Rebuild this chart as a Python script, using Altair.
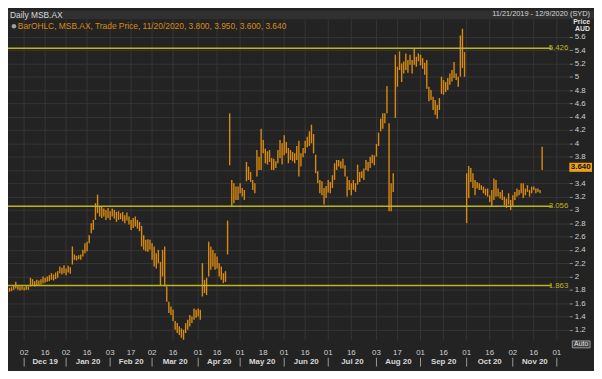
import altair as alt
import pandas as pd

# ---------------- data ----------------
holidays = ["2019-12-25", "2019-12-26", "2020-01-01", "2020-01-27",
            "2020-04-10", "2020-04-13", "2020-06-08"]

lows = [
    1.77, 1.78, 1.80, 1.82, 1.80, 1.79, 1.80, 1.79, 1.80, 1.80,
    1.85, 1.86, 1.85, 1.86, 1.87, 1.88, 1.90, 1.91, 1.92, 1.93,
    1.95, 1.94, 1.96, 1.98, 2.05, 2.03, 2.05, 2.02, 2.06, 2.04,
    2.18, 2.25, 2.24, 2.26, 2.25, 2.30, 2.35, 2.38, 2.50, 2.65,
    2.70, 2.85, 2.95, 2.90, 2.88, 2.90, 2.85, 2.88, 2.85, 2.90,
    2.87, 2.82, 2.85, 2.86, 2.83, 2.80, 2.84, 2.78, 2.70, 2.73,
    2.75, 2.72, 2.68, 2.45, 2.40, 2.38, 2.37, 2.40, 2.25, 2.15,
    2.12, 2.20, 1.86, 2.00, 1.85, 1.62, 1.45, 1.42, 1.33, 1.20,
    1.15, 1.12, 1.08, 1.05, 1.15, 1.20, 1.25, 1.30, 1.35, 1.38,
    1.40, 1.35, 1.70, 1.75, 1.72, 2.00, 2.10, 2.15, 2.10, 2.12,
    2.00, 1.95, 1.90, 1.92, 2.33, 3.67, 3.05, 3.10, 3.15, 3.15,
    3.25, 3.20, 3.15, 3.43, 3.45, 3.42, 3.30, 3.25, 3.50, 3.60,
    3.60, 3.85, 3.70, 3.68, 3.72, 3.60, 3.60, 3.63, 3.70, 3.78,
    3.68, 3.82, 3.85, 3.70, 3.75, 3.73, 3.70, 3.75, 3.50, 3.65,
    3.79, 3.85, 3.94, 3.96, 4.00, 3.85, 3.55, 3.40, 3.25, 3.22,
    3.08, 3.18, 3.26, 3.25, 3.33, 3.45, 3.60, 3.65, 3.62, 3.62,
    3.50, 3.20, 3.30, 3.22, 3.30, 3.27, 3.38, 3.42, 3.48, 3.45,
    3.60, 3.58, 3.63, 3.70, 3.67, 3.80, 3.96, 4.18, 4.22, 4.30,
    4.45, 2.98, 2.98, 3.27, 4.38, 4.85, 5.10, 4.92, 5.05, 5.10,
    5.06, 5.18, 5.05, 5.18, 5.15, 5.23, 5.17, 5.12, 5.03, 4.82,
    4.63, 4.65, 4.50, 4.43, 4.37, 4.50, 4.74, 4.73, 4.77, 4.80,
    4.88, 4.93, 4.98, 4.95, 4.85, 5.00, 5.13, 5.00, 2.80, 3.18,
    3.42, 3.33, 3.22, 3.32, 3.30, 3.30, 3.25, 3.22, 3.20, 3.12,
    3.05, 3.15, 3.20, 3.20, 3.17, 3.15, 3.07, 3.03, 3.08, 3.00,
    3.05, 3.15, 3.20, 3.22, 3.25, 3.18, 3.22, 3.27, 3.20, 3.25,
    3.30, 3.25, 3.27, 3.25, 3.60,
]
highs = [
    1.83, 1.84, 1.87, 1.92, 1.86, 1.85, 1.86, 1.84, 1.86, 1.85,
    1.98, 1.96, 1.93, 1.95, 1.94, 1.96, 2.00, 1.98, 2.00, 2.02,
    2.05, 2.03, 2.06, 2.08, 2.15, 2.13, 2.17, 2.12, 2.16, 2.14,
    2.45, 2.33, 2.31, 2.32, 2.33, 2.40, 2.50, 2.52, 2.62, 2.80,
    2.85, 3.10, 3.23, 3.05, 3.05, 3.02, 3.00, 3.03, 2.98, 3.02,
    3.00, 2.97, 2.98, 2.95, 2.97, 2.92, 2.96, 2.90, 2.85, 2.88,
    2.90, 2.85, 2.82, 2.76, 2.62, 2.55, 2.56, 2.55, 2.50, 2.45,
    2.35, 2.40, 2.22, 2.40, 2.45, 1.85, 1.62, 1.55, 1.50, 1.33,
    1.30, 1.25, 1.22, 1.20, 1.30, 1.35, 1.42, 1.40, 1.52, 1.50,
    1.52, 1.50, 2.20, 1.95, 1.98, 2.52, 2.45, 2.40, 2.35, 2.30,
    2.20, 2.15, 2.05, 2.08, 2.84, 4.45, 3.45, 3.40, 3.35, 3.35,
    3.40, 3.33, 3.30, 3.72, 3.65, 3.57, 3.45, 3.40, 3.90, 3.80,
    4.22, 4.05, 3.92, 3.88, 3.90, 3.78, 3.77, 3.73, 3.90, 4.05,
    4.00, 4.12, 4.02, 3.93, 3.90, 3.87, 3.85, 3.96, 4.04, 3.85,
    3.93, 4.04, 4.10, 4.18, 4.28, 4.14, 3.83, 3.58, 3.45, 3.43,
    3.33, 3.36, 3.45, 3.42, 3.52, 3.70, 3.75, 3.75, 3.73, 3.77,
    3.67, 3.50, 3.45, 3.40, 3.45, 3.40, 3.68, 3.57, 3.58, 3.62,
    3.75, 3.72, 3.80, 3.83, 3.82, 3.99, 4.16, 4.37, 4.45, 4.45,
    4.86, 4.30, 3.40, 3.55, 5.33, 5.15, 5.38, 5.20, 5.23, 5.35,
    5.25, 5.33, 5.25, 5.43, 5.30, 5.35, 5.33, 5.28, 5.21, 5.25,
    4.85, 4.80, 4.70, 4.65, 4.58, 4.68, 5.00, 4.95, 4.92, 4.98,
    5.05, 5.10, 5.22, 5.05, 5.00, 5.62, 5.72, 5.37, 3.55, 3.66,
    3.63, 3.55, 3.45, 3.42, 3.40, 3.37, 3.35, 3.32, 3.32, 3.22,
    3.30, 3.47, 3.45, 3.32, 3.27, 3.30, 3.20, 3.17, 3.25, 3.15,
    3.22, 3.27, 3.32, 3.30, 3.40, 3.40, 3.32, 3.37, 3.30, 3.35,
    3.35, 3.32, 3.32, 3.30, 3.95,
]

tick_dates = ["2019-12-02", "2019-12-16", "2020-01-02", "2020-01-16", "2020-02-03",
              "2020-02-17", "2020-03-02", "2020-03-16", "2020-04-01", "2020-04-16",
              "2020-05-01", "2020-05-18", "2020-06-01", "2020-06-16", "2020-07-01",
              "2020-07-16", "2020-08-03", "2020-08-17", "2020-09-01", "2020-09-16",
              "2020-10-01", "2020-10-16", "2020-11-02", "2020-11-16", "2020-12-01"]
tick_labels = ["02", "16", "02", "16", "03", "17", "02", "16", "01", "16", "01", "18",
               "01", "16", "01", "16", "03", "17", "01", "16", "01", "16", "02", "16", "01"]
month_labels = ["Dec 19", "Jan 20", "Feb 20", "Mar 20", "Apr 20", "May 20",
                "Jun 20", "Jul 20", "Aug 20", "Sep 20", "Oct 20", "Nov 20"]

levels = [5.426, 3.056, 1.863]
level_labels = ["5.426", "3.056", "1.863"]
last_price = 3.640
y_ticks = [1.2, 1.4, 1.6, 1.8, 2.0, 2.2, 2.4, 2.6, 2.8, 3.0, 3.2, 3.4,
           3.6, 3.8, 4.0, 4.2, 4.4, 4.6, 4.8, 5.0, 5.2, 5.4, 5.6]

# ---------------- tables ----------------
days = [d.strftime("%Y-%m-%d") for d in pd.bdate_range("2019-11-21", "2020-12-09")]
days = [d for d in days if d not in holidays]
pos = {d: i for i, d in enumerate(days)}
n = min(len(lows), len(highs))
bars = pd.DataFrame({"idx": list(range(n)), "low": lows[:n], "high": highs[:n],
                     "date": days[:n]})
ticks = pd.DataFrame({"idx": [pos[d] for d in tick_dates], "label": tick_labels})
month_start = [pos[d] for d in tick_dates[0::2]]
months = pd.DataFrame({"idx": [(a + b) / 2 for a, b in zip(month_start[:-1], month_start[1:])],
                       "label": month_labels})
seps = pd.DataFrame({"idx": month_start})
lv = pd.DataFrame({"level": levels, "label": level_labels})
box = pd.DataFrame({"hi": [last_price + 0.068], "lo": [last_price - 0.068],
                    "p": [last_price], "label": ["%.3f" % last_price]})
one = pd.DataFrame({"a": [0]})

# ---------------- styling ----------------
W, H = 569, 325
FONT = "Liberation Sans"
ORANGE = "#d98a12"
YELLOW = "#bdb51c"
GRID = "#363636"

xs = alt.Scale(domain=[-0.706, 266.97], nice=False, zero=False)
ys = alt.Scale(domain=[1.047, 5.862], nice=False, zero=False)
y_axis = alt.Axis(
    orient="right", values=y_ticks, format=".1~f",
    labelExpr="abs(datum.value - %s) < 0.05 ? '' : datum.label" % last_price,
    grid=True, gridColor=GRID,
    gridWidth=1, domain=False, tickSize=3, tickColor="#8a8a8a",
    labelColor="#cfcfcf", labelFont=FONT, labelFontSize=8, labelPadding=2,
    title=None)

X = lambda f: alt.X(f, type="quantitative", scale=xs, axis=None)
Y = lambda f: alt.Y(f, type="quantitative", scale=ys, axis=y_axis)

vgrid = alt.Chart(ticks).mark_rule(color=GRID, strokeWidth=1).encode(
    x=X("idx"), y=alt.value(0), y2=alt.value(H))

bar_layer = alt.Chart(bars).mark_rule(color=ORANGE, strokeWidth=1.4).encode(
    x=X("idx"), y=Y("low"), y2="high:Q")

level_rules = alt.Chart(lv).mark_rule(color=YELLOW, strokeWidth=1.5).encode(
    y=Y("level"), x=alt.value(0), x2=alt.value(551))
level_text = alt.Chart(lv).mark_text(align="right", baseline="middle", color=YELLOW,
                                     font=FONT, fontSize=8).encode(
    y=Y("level"), x=alt.value(568), text="label:N")

header = alt.Chart(one).mark_rect(color="#303030").encode(
    x=alt.value(0), x2=alt.value(594), y=alt.value(-9), y2=alt.value(0))
header_l = alt.Chart(one).mark_text(text="Daily MSB.AX", align="left", baseline="middle",
                                    color="#d6d6d6", font=FONT, fontSize=8.5).encode(
    x=alt.value(2), y=alt.value(-4.5))
header_r = alt.Chart(one).mark_text(text="11/21/2019 - 12/9/2020 (SYD)", align="right",
                                    baseline="middle", color="#d6d6d6", font=FONT,
                                    fontSize=7.5).encode(
    x=alt.value(590), y=alt.value(-5))

icon = alt.Chart(one).mark_point(shape="circle", filled=True, size=22, color="#c9d4e0").encode(
    x=alt.value(6), y=alt.value(7))
legend = alt.Chart(one).mark_text(
    text="BarOHLC, MSB.AX, Trade Price, 11/20/2020, 3.800, 3.950, 3.600, 3.640",
    align="left", baseline="middle", color=ORANGE, font=FONT, fontSize=8.5).encode(
    x=alt.value(10), y=alt.value(7))

price_t = alt.Chart(one).mark_text(text="Price", align="right", baseline="middle",
                                   color="#e0e0e0", font=FONT, fontSize=7,
                                   fontWeight="bold").encode(
    x=alt.value(590), y=alt.value(2.7))
aud_t = alt.Chart(one).mark_text(text="AUD", align="right", baseline="middle",
                                 color="#e0e0e0", font=FONT, fontSize=7,
                                 fontWeight="bold").encode(
    x=alt.value(590), y=alt.value(9.7))

box_r = alt.Chart(box).mark_rect(color="#f0a01a").encode(
    y=Y("hi"), y2="lo:Q", x=alt.value(569), x2=alt.value(592))
box_t = alt.Chart(box).mark_text(align="center", baseline="middle", color="#111111",
                                 font=FONT, fontSize=8, fontWeight="bold").encode(
    y=Y("p"), x=alt.value(580.5), text="label:N")

day_t = alt.Chart(ticks).mark_text(baseline="middle", color="#cfcfcf", font=FONT,
                                   fontSize=8).encode(
    x=X("idx"), y=alt.value(338), text="label:N")
month_t = alt.Chart(months).mark_text(baseline="middle", color="#d8d8d8", font=FONT,
                                      fontSize=8, fontWeight="bold").encode(
    x=X("idx"), y=alt.value(347), text="label:N")
sep_r = alt.Chart(seps).mark_rule(color="#9a9a9a", strokeWidth=1).encode(
    x=X("idx"), y=alt.value(343), y2=alt.value(352))

auto_r = alt.Chart(one).mark_rect(color="#3c3c3c", stroke="#9a9a9a", strokeWidth=1).encode(
    x=alt.value(572), x2=alt.value(590), y=alt.value(326), y2=alt.value(333))
auto_t = alt.Chart(one).mark_text(text="Auto", align="center", baseline="middle",
                                  color="#e8e8e8", font=FONT, fontSize=7).encode(
    x=alt.value(581), y=alt.value(329.5))

chart = alt.layer(
    header, header_l, header_r, vgrid, bar_layer, level_rules, level_text,
    icon, legend, price_t, aud_t, box_r, box_t, day_t, month_t, sep_r, auto_r, auto_t
).properties(
    width=W, height=H,
    autosize=alt.AutoSizeParams(type="none"),
    padding={"left": 0, "top": 9, "right": 25, "bottom": 29},
    background="#232323",
).configure_view(fill="#232323", stroke=None)

chart.save("out.html", embed_options={"renderer": "svg", "actions": False})
